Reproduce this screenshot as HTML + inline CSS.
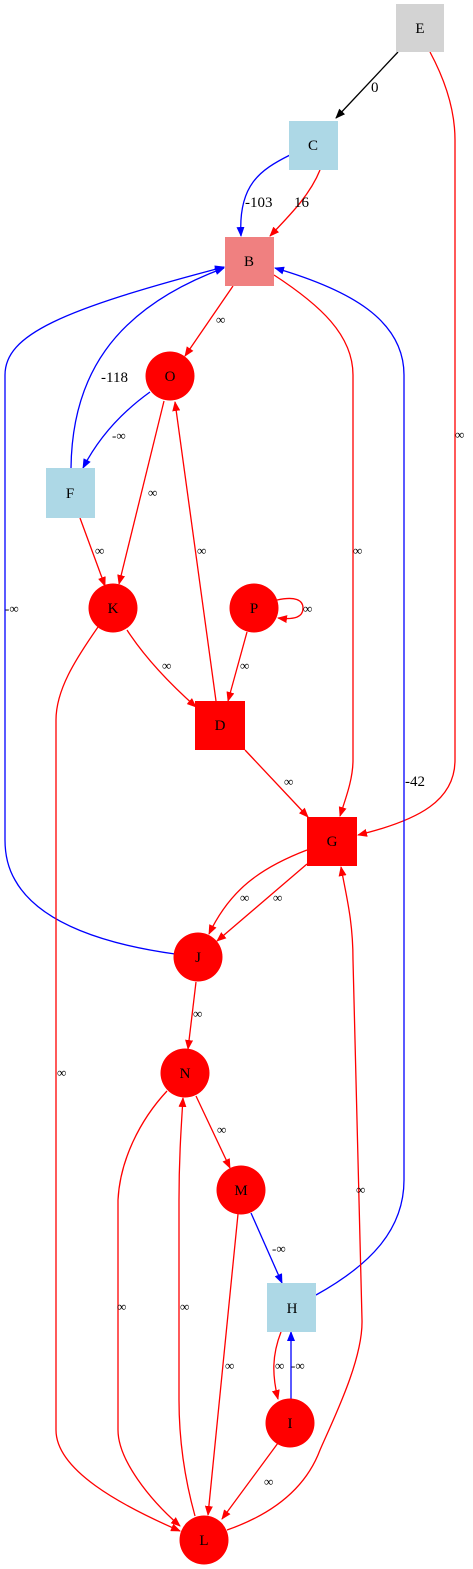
<!DOCTYPE html>
<html><head><meta charset="utf-8"><style>
html,body{margin:0;padding:0;background:#fff}
svg{display:block}
text{font-family:"Liberation Serif",serif;fill:#000}
</style></head><body>
<svg width="473" height="1569" viewBox="0 0 473 1569" xmlns="http://www.w3.org/2000/svg">
<defs>
<marker id="ar" markerWidth="10" markerHeight="8" refX="9" refY="4" orient="auto" markerUnits="userSpaceOnUse"><path d="M0,0 L10,4 L0,8 z" fill="#f00"/></marker>
<marker id="ab" markerWidth="10" markerHeight="8" refX="9" refY="4" orient="auto" markerUnits="userSpaceOnUse"><path d="M0,0 L10,4 L0,8 z" fill="#00f"/></marker>
<marker id="ak" markerWidth="10" markerHeight="8" refX="9" refY="4" orient="auto" markerUnits="userSpaceOnUse"><path d="M0,0 L10,4 L0,8 z" fill="#000"/></marker>
</defs>
<g fill="none" stroke-width="1.3">
<path d="M398,52 L336,118" stroke="#000" marker-end="url(#ak)"/>
<path d="M430,52 C445,80 455,110 455,140 L455,760 C455,800 420,820 358,835" stroke="#f00" marker-end="url(#ar)"/>
<path d="M290,155 C260,170 238,185 241,236" stroke="#00f" marker-end="url(#ab)"/>
<path d="M320,170 C310,195 290,215 270,236" stroke="#f00" marker-end="url(#ar)"/>
<path d="M233,286 L185,356" stroke="#f00" marker-end="url(#ar)"/>
<path d="M274,275 C320,305 353,335 353,375 L353,760 C353,780 345,800 340,816" stroke="#f00" marker-end="url(#ar)"/>
<path d="M71,468 C72,380 110,310 224,268" stroke="#00f" marker-end="url(#ab)"/>
<path d="M150,392 C125,410 100,435 83,468" stroke="#00f" marker-end="url(#ab)"/>
<path d="M164,401 L119,584" stroke="#f00" marker-end="url(#ar)"/>
<path d="M80,518 L105,586" stroke="#f00" marker-end="url(#ar)"/>
<path d="M216,701 L175,402" stroke="#f00" marker-end="url(#ar)"/>
<path d="M175,954 C110,945 40,925 15,880 C8,868 5,855 5,840 L5,375 C5,335 60,310 224,267" stroke="#00f" marker-end="url(#ab)"/>
<path d="M127,630 C140,650 160,675 196,707" stroke="#f00" marker-end="url(#ar)"/>
<path d="M247,632 L228,701" stroke="#f00" marker-end="url(#ar)"/>
<path d="M277,600 C295,596 303,600 303,608 C303,617 295,620 278,618" stroke="#f00" marker-end="url(#ar)"/>
<path d="M98,627 C75,660 56,690 56,720 L56,1430 C56,1470 120,1505 180,1531" stroke="#f00" marker-end="url(#ar)"/>
<path d="M245,750 L308,817" stroke="#f00" marker-end="url(#ar)"/>
<path d="M316,1295 C370,1265 404,1230 404,1180 L404,375 C404,320 350,290 275,268" stroke="#00f" marker-end="url(#ab)"/>
<path d="M307,850 C260,868 230,890 209,934" stroke="#f00" marker-end="url(#ar)"/>
<path d="M307,864 L217,941" stroke="#f00" marker-end="url(#ar)"/>
<path d="M196,982 L188,1049" stroke="#f00" marker-end="url(#ar)"/>
<path d="M196,1096 L230,1168" stroke="#f00" marker-end="url(#ar)"/>
<path d="M167,1091 C140,1120 120,1160 118,1200 L118,1430 C118,1460 150,1500 180,1526" stroke="#f00" marker-end="url(#ar)"/>
<path d="M195,1516 C185,1480 179,1440 179,1400 L179,1200 C179,1160 181,1130 183,1098" stroke="#f00" marker-end="url(#ar)"/>
<path d="M238,1214 L208,1515" stroke="#f00" marker-end="url(#ar)"/>
<path d="M251,1213 L282,1283" stroke="#00f" marker-end="url(#ab)"/>
<path d="M227,1530 C270,1515 305,1490 320,1450 C333,1420 363,1360 362,1320 L353,960 C353,920 346,895 341,867" stroke="#f00" marker-end="url(#ar)"/>
<path d="M281,1332 C272,1355 272,1375 278,1399" stroke="#f00" marker-end="url(#ar)"/>
<path d="M291,1399 L291,1332" stroke="#00f" marker-end="url(#ab)"/>
<path d="M278,1443 L222,1519" stroke="#f00" marker-end="url(#ar)"/>
</g>
<rect x="396" y="4" width="48" height="48" fill="#d3d3d3"/>
<rect x="289" y="121" width="49" height="49" fill="#add8e6"/>
<rect x="225" y="237" width="49" height="49" fill="#f08080"/>
<circle cx="170" cy="376" r="24.5" fill="#f00"/>
<rect x="46" y="468" width="49" height="50" fill="#add8e6"/>
<circle cx="113" cy="608" r="24.5" fill="#f00"/>
<circle cx="254" cy="608" r="24.5" fill="#f00"/>
<rect x="195" y="701" width="50" height="49" fill="#f00"/>
<rect x="307" y="817" width="50" height="49" fill="#f00"/>
<circle cx="198" cy="957" r="24.5" fill="#f00"/>
<circle cx="185" cy="1073" r="24.5" fill="#f00"/>
<circle cx="241" cy="1190" r="24.5" fill="#f00"/>
<rect x="267" y="1283" width="49" height="49" fill="#add8e6"/>
<circle cx="290" cy="1423" r="24.5" fill="#f00"/>
<circle cx="204" cy="1540" r="24.5" fill="#f00"/>
<g font-size="15" text-anchor="middle">
<text x="420" y="33">E</text>
<text x="313" y="150">C</text>
<text x="249" y="266">B</text>
<text x="170" y="381">O</text>
<text x="70" y="498">F</text>
<text x="113" y="613">K</text>
<text x="254" y="613">P</text>
<text x="220" y="730">D</text>
<text x="332" y="846">G</text>
<text x="198" y="962">J</text>
<text x="185" y="1078">N</text>
<text x="241" y="1195">M</text>
<text x="292" y="1313">H</text>
<text x="290" y="1428">I</text>
<text x="204" y="1545">L</text>
</g>
<g font-size="15">
<text x="371" y="92">0</text>
<text x="245" y="207">-103</text>
<text x="294" y="207">16</text>
<text x="101" y="382">-118</text>
<text x="405" y="786">-42</text>
</g>
<g font-size="13">
<text x="216" y="324">∞</text>
<text x="455" y="439">∞</text>
<text x="112" y="440">-∞</text>
<text x="148" y="497">∞</text>
<text x="95" y="555">∞</text>
<text x="197" y="555">∞</text>
<text x="353" y="555">∞</text>
<text x="5" y="613">-∞</text>
<text x="303" y="613">∞</text>
<text x="162" y="670">∞</text>
<text x="240" y="670">∞</text>
<text x="284" y="786">∞</text>
<text x="240" y="902">∞</text>
<text x="273" y="902">∞</text>
<text x="193" y="1018">∞</text>
<text x="57" y="1077">∞</text>
<text x="217" y="1134">∞</text>
<text x="356" y="1194">∞</text>
<text x="272" y="1253">-∞</text>
<text x="180" y="1311">∞</text>
<text x="117" y="1311">∞</text>
<text x="225" y="1370">∞</text>
<text x="275" y="1370">∞</text>
<text x="291" y="1370">-∞</text>
<text x="264" y="1486">∞</text>
</g>
</svg>
</body></html>
